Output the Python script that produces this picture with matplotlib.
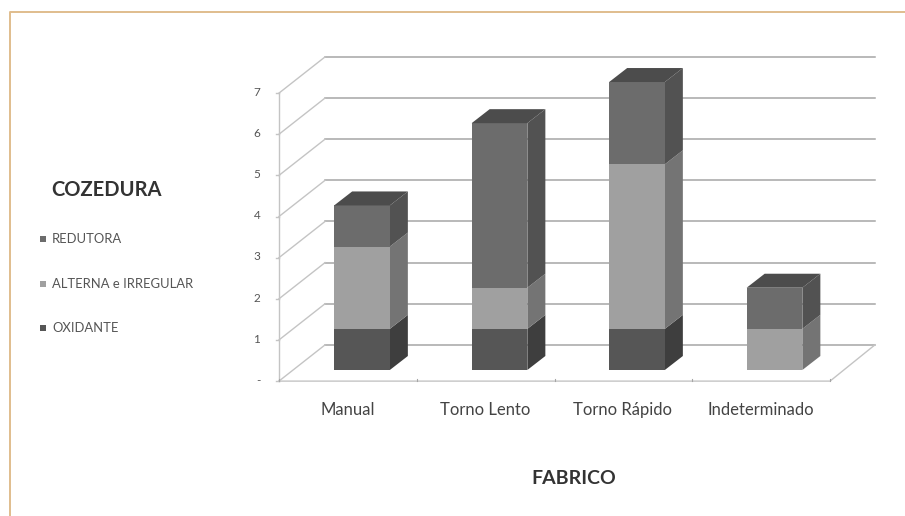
import matplotlib
matplotlib.use('Agg')
import matplotlib.pyplot as plt
from matplotlib.patches import Polygon, Rectangle

plt.rcParams['font.family'] = ['Lato', 'DejaVu Sans']

# datos
fabrico = ['Manual', 'Torno Lento', 'Torno Rápido', 'Indeterminado']
oxidante = [1, 1, 1, 0]
alterna = [2, 1, 4, 1]
redutora = [1, 4, 2, 1]
series_nombres = ['OXIDANTE', 'ALTERNA e IRREGULAR', 'REDUTORA']
y_labels = ['-', '1', '2', '3', '4', '5', '6', '7']

# colores: frente, lado, tapa
c_oxi = ('#565656', '#3e3e3e', '#424242')
c_alt = ('#a0a0a0', '#747474', '#7c7c7c')
c_red = ('#6c6c6c', '#525252', '#4c4c4c')

W, H = 905, 516
px_x = 137.5   # pixeles por categoria
px_y = 41.14   # pixeles por unidad
x0, y0 = 362, 370

fig = plt.figure(figsize=(W / 100, H / 100), dpi=100, facecolor='white')
ax = fig.add_axes([0, 0, 1, 1])
ax.set_xlim(-x0 / px_x, (W - x0) / px_x)
ax.set_ylim((y0 - H) / px_y, y0 / px_y)
ax.axis('off')

# profundidad de barra y de la caja
bar_w = 0.405
bar_dx, bar_dy = 0.131, 0.34
left_f, left_b = -0.604, -0.269
right_f, right_b = 3.404, 3.73
floor_f, floor_b = -0.27, 0.61

grid_c = '#a6a6a6'
side_c = '#c4c4c4'

# paredes
for v in range(len(y_labels)):
    ax.plot([left_b, right_b], [v + floor_b] * 2, color=grid_c, lw=1.1, zorder=1)
    ax.plot([left_f, left_b], [v + floor_f, v + floor_b], color=side_c, lw=1, zorder=1)
    ax.plot([left_f - 0.02, left_f], [v + floor_f] * 2, color=side_c, lw=1, zorder=1)
    ax.text(-0.74, v + floor_f + 0.02, y_labels[v], ha='right', va='center',
            fontsize=8.5, color='#555555')
ax.plot([left_f, left_f], [floor_f, 7 + floor_f], color=side_c, lw=1, zorder=1)
ax.plot([left_f, right_f, right_b], [floor_f, floor_f, floor_b], color=side_c, lw=1, zorder=1)
for k in range(5):
    xt = left_f + k * (right_f - left_f) / 4
    ax.plot([xt, xt], [floor_f, floor_f + 0.05], color=grid_c, lw=0.8, zorder=1)


def dibujar_bloque(x, base, alto, colores, tapa):
    l, r = x - bar_w / 2, x + bar_w / 2
    t = base + alto
    ax.add_patch(Polygon([(r, base), (r + bar_dx, base + bar_dy),
                          (r + bar_dx, t + bar_dy), (r, t)],
                         fc=colores[1], ec='none', zorder=3))
    ax.add_patch(Rectangle((l, base), bar_w, alto, fc=colores[0], ec='none', zorder=4))
    if tapa:
        ax.add_patch(Polygon([(l, t), (l + bar_dx, t + bar_dy),
                              (r + bar_dx, t + bar_dy), (r, t)],
                             fc=colores[2], ec='none', zorder=4))


# barras apiladas
for i in range(len(fabrico)):
    base = 0
    capas = [(oxidante[i], c_oxi), (alterna[i], c_alt), (redutora[i], c_red)]
    capas = [c for c in capas if c[0] > 0]
    for j, (alto, col) in enumerate(capas):
        dibujar_bloque(i, base, alto, col, j == len(capas) - 1)
        base += alto
    # las etiquetas van centradas en el tramo del suelo frontal
    ax.text(i - 0.102, -0.97, fabrico[i], ha='center', va='center',
            fontsize=12, color='#444444')

# leyenda a mano, como en el original
tr = fig.transFigure
fig.text(51 / W, 1 - 190 / H, 'COZEDURA', fontsize=14.5, fontweight='bold',
         color='#333333', va='center')
fig.text(531 / W, 1 - 478 / H, 'FABRICO', fontsize=14, fontweight='bold',
         color='#333333', va='center')
leg_y = [239, 284, 328]
leg_cols = [c_red[0], c_alt[0], c_oxi[0]]
for yy, nombre, col in zip(leg_y, series_nombres[::-1], leg_cols):
    fig.patches.append(Rectangle((40 / W, 1 - (yy + 3) / H), 6 / W, 6 / H,
                                 transform=tr, fc=col, ec='none'))
    fig.text(52 / W, 1 - yy / H, nombre, fontsize=9.4, color='#555555', va='center')

# marco de la pagina
fig.add_artist(plt.Line2D([9.5 / W, 9.5 / W, 1], [0, 1 - 12 / H, 1 - 12 / H],
                          color='#e0bd8d', lw=1.4, transform=tr))

fig.savefig('out.png', dpi=100)
